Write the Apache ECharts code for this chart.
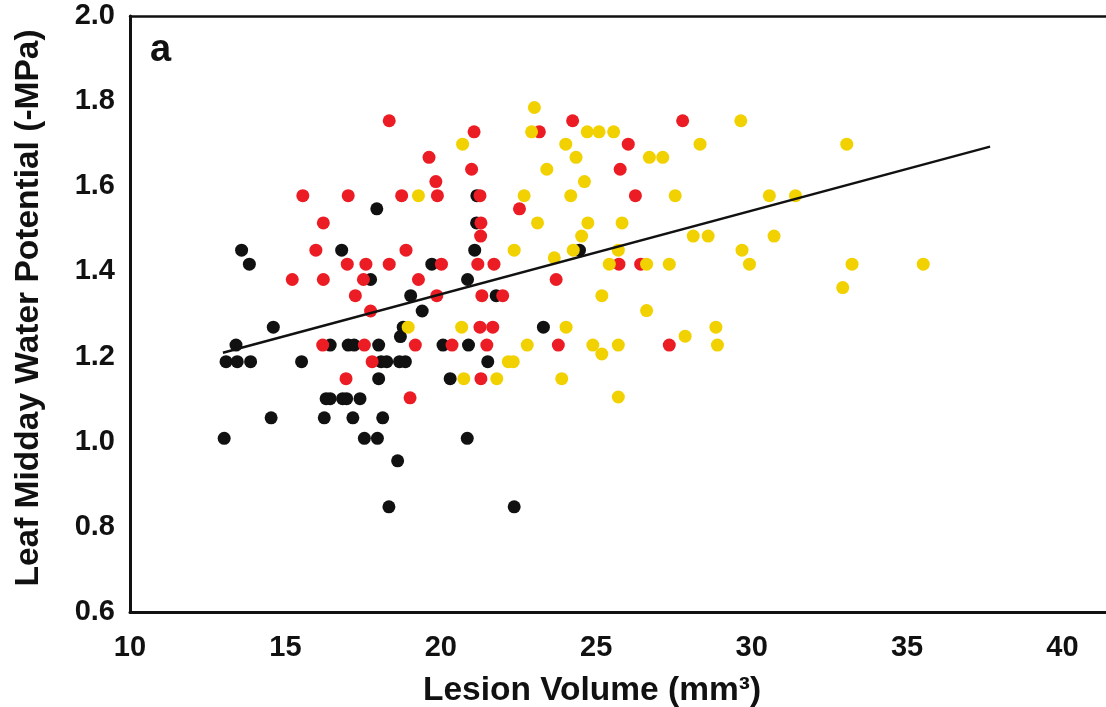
<!DOCTYPE html>
<html><head><meta charset="utf-8">
<script src="https://cdn.jsdelivr.net/npm/echarts@6/dist/echarts.min.js"></script>
<style>html,body{margin:0;padding:0;background:#fff}#c{width:1106px;height:707px}</style>
</head><body><div id="c"></div>
<script>
// Lesion volume (mm3), leaf midday water potential (-MPa)
const blackPts = [
[17.94,1.547],[13.59,1.450],[13.84,1.417],[16.81,1.450],[21.09,1.450],[20.86,1.381],[19.03,1.343],[19.40,1.307],
[14.61,1.269],[13.41,1.227],[16.44,1.227],[17.02,1.227],[17.21,1.227],[18.00,1.227],[20.07,1.227],[20.89,1.227],
[18.70,1.247],[18.79,1.269],[13.09,1.188],[13.45,1.188],[13.88,1.188],[15.52,1.188],[18.08,1.188],[18.26,1.188],
[18.67,1.188],[18.86,1.188],[21.51,1.188],[18.00,1.148],[20.30,1.148],[21.15,1.514],[19.71,1.417],[17.74,1.381],
[23.30,1.269],[24.46,1.450],[21.78,1.343],[16.31,1.101],[16.44,1.101],[16.84,1.101],[16.97,1.101],[17.40,1.101],
[14.54,1.056],[16.25,1.056],[17.17,1.056],[18.13,1.056],[13.03,1.008],[17.54,1.008],[17.96,1.008],[20.85,1.008],
[18.61,0.955],[18.33,0.847],[22.36,0.847],[21.16,1.578]
];
const redPts = [
[18.34,1.754],[21.07,1.728],[19.62,1.668],[20.99,1.640],[19.84,1.611],[15.56,1.578],[17.02,1.578],[18.74,1.578],
[19.89,1.578],[16.22,1.514],[15.98,1.450],[18.88,1.450],[16.99,1.417],[17.59,1.417],[18.34,1.417],[20.02,1.417],
[15.22,1.381],[16.22,1.381],[17.51,1.381],[19.28,1.381],[17.25,1.343],[19.87,1.343],[17.74,1.307],[16.20,1.227],
[17.54,1.227],[19.18,1.227],[20.36,1.227],[17.79,1.188],[16.95,1.148],[19.01,1.103],[24.24,1.754],[27.78,1.754],
[23.17,1.728],[26.03,1.699],[25.77,1.640],[21.26,1.578],[26.26,1.578],[22.53,1.547],[21.29,1.514],[21.28,1.483],
[21.19,1.417],[21.71,1.417],[25.73,1.417],[26.43,1.417],[23.71,1.381],[21.32,1.343],[21.99,1.343],[21.26,1.269],
[21.67,1.269],[21.48,1.227],[23.78,1.227],[27.35,1.227],[21.29,1.148]
];
const yellowPts = [
[20.70,1.699],[19.28,1.578],[18.95,1.269],[20.67,1.269],[20.74,1.148],[24.03,1.269],[22.78,1.227],[22.17,1.188],
[22.33,1.188],[21.80,1.148],[23.89,1.148],[23.01,1.785],[29.65,1.754],[22.92,1.728],[24.71,1.728],[25.09,1.728],
[25.56,1.728],[24.02,1.699],[28.34,1.699],[24.35,1.668],[26.71,1.668],[27.14,1.668],[23.41,1.640],[24.62,1.611],
[22.68,1.578],[24.18,1.578],[27.54,1.578],[23.11,1.514],[24.73,1.514],[25.83,1.514],[24.53,1.483],[28.12,1.483],
[28.60,1.483],[22.36,1.450],[24.26,1.450],[25.71,1.450],[29.69,1.450],[23.65,1.432],[25.42,1.417],[26.62,1.417],
[27.35,1.417],[29.93,1.417],[25.18,1.343],[26.62,1.308],[28.85,1.269],[27.86,1.248],[24.89,1.227],[25.71,1.227],
[28.90,1.227],[25.18,1.206],[25.71,1.105],[33.06,1.699],[30.57,1.578],[31.41,1.578],[30.72,1.483],[33.23,1.417],
[35.52,1.417],[32.93,1.362]
];
const trendLine = [[12.99,1.209],[37.67,1.693]];
const xTicks = [10,15,20,25,30,35,40];
const yTicks = [0.6,0.8,1.0,1.2,1.4,1.6,1.8,2.0];

const chart = echarts.init(document.getElementById('c'), null, {renderer:'canvas'});
const FONT = '"Liberation Sans", Arial, Helvetica, sans-serif';
const lineStyle = {color:'#111', width:3};
chart.setOption({
  animation:false,
  backgroundColor:'#fff',
  grid:{left:130, right:0, top:16, bottom:95, containLabel:false, outerBoundsMode:'none'},
  xAxis:[{
    type:'value', min:10, max:41.4, interval:5,
    axisLine:{show:true, onZero:false, lineStyle},
    axisTick:{show:false}, splitLine:{show:false},
    axisLabel:{show:true, margin:21, color:'#111', fontFamily:FONT, fontWeight:'bold', fontSize:29,
      showMaxLabel:false,
      formatter:v => xTicks.indexOf(Math.round(v*100)/100) >= 0 ? String(v) : ''},
    name:'Lesion Volume (mm³)', nameLocation:'middle', nameGap:62,
    nameTextStyle:{color:'#111', fontFamily:FONT, fontWeight:'bold', fontSize:33.5, padding:[0,52,0,0]}
  },{
    type:'value', position:'top', min:10, max:41.4,
    axisLine:{show:true, onZero:false, lineStyle:{color:'#111', width:2.5}}, axisTick:{show:false},
    axisLabel:{show:false}, splitLine:{show:false}
  }],
  yAxis:{
    type:'value', min:0.6, max:2.0, interval:0.2,
    axisLine:{show:true, onZero:false, lineStyle},
    axisTick:{show:false}, splitLine:{show:false},
    axisLabel:{margin:15, color:'#111', fontFamily:FONT, fontWeight:'bold', fontSize:29,
      formatter:v => {const t = yTicks.find(k => Math.abs(k-v)<1e-6); return t===undefined ? '' : t.toFixed(1);}},
    name:'Leaf Midday Water Potential (-MPa)', nameLocation:'middle', nameGap:84,
    nameTextStyle:{color:'#111', fontFamily:FONT, fontWeight:'bold', fontSize:33.5, padding:[0,0,0,12]}
  },
  graphic:[{type:'text', left:150, top:32, style:{text:'a', fill:'#111', font:'bold 38px '+FONT}}],
  series:[
    {type:'scatter', data:blackPts, symbolSize:13, itemStyle:{color:'#111111', opacity:1}, z:2},
    {type:'scatter', data:redPts, symbolSize:13, itemStyle:{color:'#EC1C24', opacity:1}, z:3},
    {type:'scatter', data:yellowPts, symbolSize:13, itemStyle:{color:'#F2D100', opacity:1}, z:4},
    {type:'line', data:trendLine, symbol:'none', lineStyle:{color:'#111', width:2.4}, z:5}
  ]
});
</script></body></html>
